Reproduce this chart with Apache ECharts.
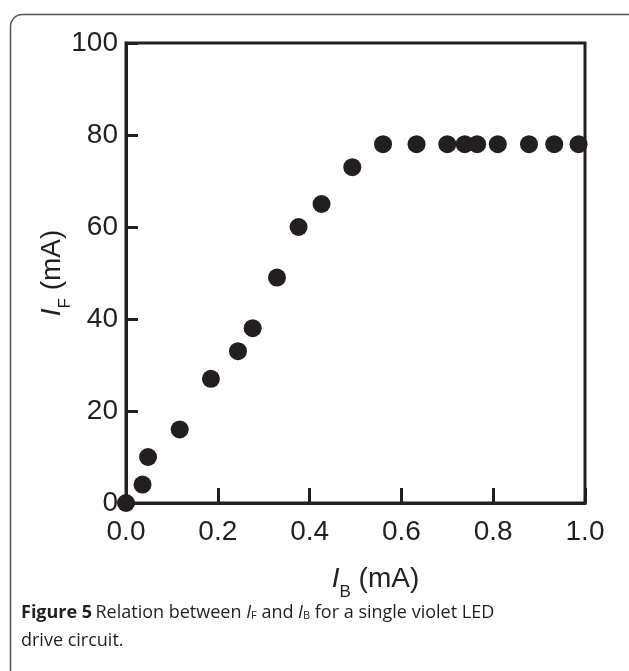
<!DOCTYPE html>
<html>
<head>
<meta charset="utf-8">
<script src="https://cdn.jsdelivr.net/npm/echarts@6/dist/echarts.min.js"></script>
<style>
html,body{margin:0;padding:0;background:#fff;}
#c{width:629px;height:671px;}
</style>
</head>
<body>
<div id="c"></div>
<script>
// I_B values (mA)
var ibValues = [0.0, 0.036, 0.048, 0.117, 0.185, 0.244, 0.276, 0.329, 0.376, 0.426, 0.493, 0.560, 0.633, 0.700, 0.738, 0.765, 0.810, 0.878, 0.933, 0.986];
// I_F values (mA)
var ifValues = [0, 4, 10, 16, 27, 33, 38, 49, 60, 65, 73, 78, 78, 78, 78, 78, 78, 78, 78, 78];
var xTicks = [0.0, 0.2, 0.4, 0.6, 0.8, 1.0];
var yTicks = [0, 20, 40, 60, 80, 100];

var ink = '#231f20';
var font = 'Liberation Sans, Arial, sans-serif';
var capFont = '"Open Sans", "Noto Sans", sans-serif';

var points = ibValues.map(function (v, i) { return [v, ifValues[i]]; });

var nameRich = {
  i: { fontStyle: 'italic', fontSize: 28, fontFamily: font, color: ink, lineHeight: 34, verticalAlign: 'bottom' },
  s: { fontSize: 17, fontFamily: font, color: ink, lineHeight: 20, verticalAlign: 'bottom', padding: [0, 0, -8, 0] },
  n: { fontSize: 28, fontFamily: font, color: ink, lineHeight: 34, verticalAlign: 'bottom' }
};

var chart = echarts.init(document.getElementById('c'));
chart.setOption({
  animation: false,
  backgroundColor: '#fff',
  grid: {
    left: 126, right: 44, top: 43, bottom: 168,
    show: true, borderColor: ink, borderWidth: 3, backgroundColor: 'transparent'
  },
  xAxis: {
    type: 'value', min: xTicks[0], max: xTicks[xTicks.length - 1], interval: 0.2,
    axisLine: { show: true, onZero: false, lineStyle: { color: ink, width: 3 } },
    axisTick: { show: true, inside: true, length: 15, lineStyle: { color: ink, width: 3 } },
    splitLine: { show: false },
    axisLabel: { color: ink, fontSize: 28, fontFamily: font, margin: 15,
      formatter: function (v) { return v.toFixed(1); } },
    name: '{i|I}{s|B}{n| (mA)}',
    nameLocation: 'middle', nameGap: 56, nameMoveOverlap: false,
    nameTextStyle: { padding: [0, 0, 0, 40], rich: nameRich }
  },
  yAxis: {
    type: 'value', min: yTicks[0], max: yTicks[yTicks.length - 1], interval: 20,
    axisLine: { show: true, onZero: false, lineStyle: { color: ink, width: 3 } },
    axisTick: { show: true, inside: true, length: 12, lineStyle: { color: ink, width: 3 } },
    splitLine: { show: false },
    axisLabel: { color: ink, fontSize: 28, fontFamily: font, margin: 8 },
    name: '{i|I}{s|F}{n| (mA)}',
    nameLocation: 'middle', nameGap: 60, nameRotate: 90, nameMoveOverlap: false,
    nameTextStyle: { padding: [0, 0, 0, 0], rich: nameRich }
  },
  series: [{
    type: 'scatter',
    data: points,
    symbol: 'circle',
    symbolSize: 18,
    clip: false,
    itemStyle: { color: ink, opacity: 1 },
    z: 5
  }],
  graphic: [
    {
      type: 'rect', left: 8, top: 12, z: -1,
      shape: { width: 640, height: 700, r: 12 },
      style: { fill: 'none', stroke: '#555', lineWidth: 1.5 }
    },
    {
      type: 'text', left: 21, top: 604,
      style: {
        text: '{b|Figure 5} {t|Relation between }{i|I}{s|F}{t| and }{i|I}{s|B}{t| for a single violet LED}\n{t|drive circuit.}',
        rich: {
          b: { fontWeight: 'bold', fontSize: 18, fontFamily: capFont, fill: ink, lineHeight: 28 },
          t: { fontSize: 18, fontFamily: capFont, fill: ink, lineHeight: 28 },
          i: { fontStyle: 'italic', fontSize: 18, fontFamily: capFont, fill: ink, lineHeight: 28 },
          s: { fontSize: 11, fontFamily: capFont, fill: ink, lineHeight: 28, padding: [0, 0, -6, 0] }
        }
      }
    }
  ]
});
</script>
</body>
</html>
